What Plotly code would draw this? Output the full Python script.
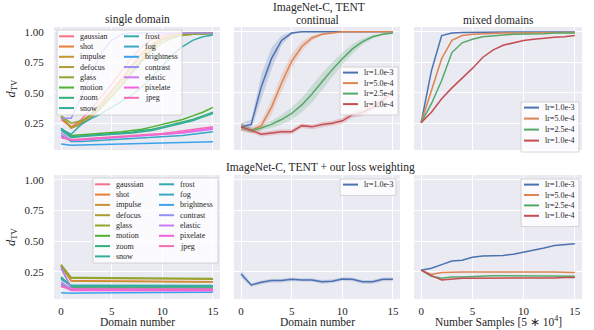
import plotly.graph_objects as go

W, H = 594, 330
FONT = "Liberation Serif"
INK = "#262626"
BG = "#eaeaf2"

steps = list(range(16))

# ---- single domain (top-left) and with loss weighting (bottom-left) ----
corruptions = ["gaussian", "shot", "impulse", "defocus", "glass", "motion", "zoom", "snow",
               "frost", "fog", "brightness", "contrast", "elastic", "pixelate", "jpeg"]
husl15 = ["#f77189", "#ea7e32", "#c99233", "#ad9c31", "#8fa631", "#50b131", "#33b07a", "#35ae97",
          "#37abb0", "#38a8c5", "#3ba3ec", "#9591f4", "#cc7af4", "#f263e0", "#f66bb6"]

single_gaussian = [0.28, 0.22, 0.28, 0.37, 0.47, 0.57, 0.68, 0.79, 0.88, 0.94, 0.97, 0.985, 0.99, 0.99, 0.99, 0.99]
single_shot = [0.30, 0.21, 0.26, 0.33, 0.42, 0.52, 0.62, 0.73, 0.83, 0.90, 0.95, 0.97, 0.98, 0.99, 0.99, 0.99]
single_impulse = [0.30, 0.22, 0.25, 0.32, 0.40, 0.50, 0.60, 0.71, 0.81, 0.89, 0.94, 0.97, 0.98, 0.985, 0.99, 0.99]
single_defocus = [0.31, 0.21, 0.24, 0.30, 0.38, 0.47, 0.57, 0.68, 0.78, 0.87, 0.93, 0.96, 0.975, 0.98, 0.985, 0.985]
single_glass = [0.31, 0.25, 0.27, 0.32, 0.39, 0.47, 0.56, 0.66, 0.76, 0.85, 0.91, 0.95, 0.97, 0.98, 0.98, 0.985]
single_motion = [0.20, 0.15, 0.155, 0.16, 0.165, 0.17, 0.18, 0.19, 0.20, 0.22, 0.24, 0.26, 0.28, 0.31, 0.34, 0.38]
single_zoom = [0.21, 0.14, 0.145, 0.15, 0.155, 0.16, 0.165, 0.175, 0.19, 0.20, 0.22, 0.24, 0.26, 0.28, 0.31, 0.34]
single_snow = [0.19, 0.13, 0.14, 0.145, 0.15, 0.155, 0.16, 0.17, 0.18, 0.19, 0.21, 0.23, 0.25, 0.27, 0.30, 0.33]
single_frost = [0.20, 0.16, 0.24, 0.29, 0.33, 0.38, 0.43, 0.48, 0.55, 0.63, 0.72, 0.81, 0.88, 0.93, 0.96, 0.975]
single_fog = [0.15, 0.10, 0.10, 0.105, 0.11, 0.11, 0.115, 0.12, 0.125, 0.13, 0.135, 0.145, 0.15, 0.16, 0.17, 0.18]
single_brightness = [0.08, 0.07, 0.072, 0.074, 0.076, 0.078, 0.08, 0.082, 0.084, 0.086, 0.088, 0.09, 0.092, 0.094, 0.096, 0.098]
single_contrast = [0.29, 0.29, 0.47, 0.66, 0.83, 0.93, 0.98, 0.99, 0.99, 0.99, 0.99, 0.99, 0.99, 0.99, 0.99, 0.99]
single_elastic = [0.17, 0.11, 0.115, 0.12, 0.125, 0.13, 0.135, 0.14, 0.145, 0.15, 0.16, 0.165, 0.17, 0.18, 0.19, 0.20]
single_pixelate = [0.14, 0.11, 0.115, 0.12, 0.125, 0.13, 0.135, 0.14, 0.145, 0.15, 0.155, 0.165, 0.175, 0.185, 0.195, 0.21]
single_jpeg = [0.13, 0.115, 0.12, 0.125, 0.13, 0.135, 0.14, 0.145, 0.15, 0.16, 0.165, 0.175, 0.185, 0.195, 0.205, 0.22]

lw_gaussian = [0.28, 0.125, 0.122, 0.122, 0.12, 0.12, 0.12, 0.12, 0.12, 0.118, 0.118, 0.118, 0.118, 0.118, 0.118, 0.118]
lw_shot = [0.30, 0.18, 0.178, 0.177, 0.176, 0.175, 0.175, 0.174, 0.174, 0.173, 0.173, 0.172, 0.172, 0.171, 0.171, 0.17]
lw_impulse = [0.30, 0.177, 0.175, 0.174, 0.173, 0.172, 0.172, 0.171, 0.171, 0.17, 0.17, 0.169, 0.169, 0.168, 0.168, 0.168]
lw_defocus = [0.31, 0.20, 0.199, 0.198, 0.197, 0.196, 0.195, 0.195, 0.194, 0.193, 0.193, 0.192, 0.192, 0.191, 0.191, 0.19]
lw_glass = [0.31, 0.206, 0.205, 0.204, 0.203, 0.202, 0.201, 0.2, 0.2, 0.199, 0.198, 0.198, 0.197, 0.197, 0.196, 0.196]
lw_motion = [0.20, 0.132, 0.132, 0.132, 0.131, 0.131, 0.131, 0.131, 0.13, 0.13, 0.13, 0.13, 0.13, 0.13, 0.13, 0.13]
lw_zoom = [0.21, 0.128, 0.128, 0.128, 0.128, 0.127, 0.127, 0.127, 0.127, 0.127, 0.127, 0.127, 0.127, 0.127, 0.127, 0.127]
lw_snow = [0.19, 0.141, 0.141, 0.141, 0.14, 0.14, 0.14, 0.14, 0.14, 0.14, 0.14, 0.14, 0.14, 0.14, 0.14, 0.14]
lw_frost = [0.20, 0.137, 0.137, 0.136, 0.136, 0.136, 0.136, 0.135, 0.135, 0.135, 0.135, 0.135, 0.135, 0.135, 0.135, 0.135]
lw_fog = [0.15, 0.112, 0.112, 0.111, 0.111, 0.111, 0.11, 0.11, 0.11, 0.11, 0.11, 0.11, 0.11, 0.11, 0.11, 0.11]
lw_brightness = [0.08, 0.076, 0.079, 0.08, 0.081, 0.082, 0.082, 0.083, 0.083, 0.084, 0.084, 0.084, 0.085, 0.085, 0.085, 0.085]
lw_contrast = [0.29, 0.115, 0.114, 0.113, 0.112, 0.112, 0.111, 0.111, 0.11, 0.11, 0.11, 0.11, 0.11, 0.11, 0.11, 0.11]
lw_elastic = [0.17, 0.108, 0.107, 0.107, 0.106, 0.106, 0.106, 0.105, 0.105, 0.105, 0.105, 0.105, 0.105, 0.105, 0.105, 0.105]
lw_pixelate = [0.14, 0.10, 0.10, 0.1, 0.099, 0.099, 0.099, 0.099, 0.098, 0.098, 0.098, 0.098, 0.098, 0.098, 0.098, 0.098]
lw_jpeg = [0.13, 0.113, 0.112, 0.112, 0.112, 0.111, 0.111, 0.111, 0.11, 0.11, 0.11, 0.11, 0.11, 0.11, 0.11, 0.11]

single_curves = [single_gaussian, single_shot, single_impulse, single_defocus, single_glass,
                 single_motion, single_zoom, single_snow, single_frost, single_fog,
                 single_brightness, single_contrast, single_elastic, single_pixelate, single_jpeg]
lw_curves = [lw_gaussian, lw_shot, lw_impulse, lw_defocus, lw_glass, lw_motion, lw_zoom, lw_snow,
             lw_frost, lw_fog, lw_brightness, lw_contrast, lw_elastic, lw_pixelate, lw_jpeg]

# ---- learning-rate runs ----
lr_labels = ["lr=1.0e-3", "lr=5.0e-4", "lr=2.5e-4", "lr=1.0e-4"]
deep = ["#4c72b0", "#dd8452", "#55a868", "#c44e52"]

cont_1e3 = [0.22, 0.24, 0.55, 0.78, 0.93, 0.99, 1.0, 1.0, 1.0, 1.0, 1.0, 1.0, 1.0, 1.0, 1.0, 1.0]
cont_5e4 = [0.22, 0.19, 0.23, 0.38, 0.58, 0.76, 0.88, 0.95, 0.98, 0.99, 1.0, 1.0, 1.0, 1.0, 1.0, 1.0]
cont_25e4 = [0.22, 0.19, 0.21, 0.24, 0.28, 0.33, 0.40, 0.49, 0.59, 0.69, 0.78, 0.86, 0.92, 0.96, 0.98, 0.99]
cont_1e4 = [0.22, 0.19, 0.16, 0.17, 0.18, 0.18, 0.23, 0.22, 0.24, 0.25, 0.27, 0.32, 0.34, 0.38, 0.44, 0.51]
cont_sd_1e3 = [0.03, 0.04, 0.10, 0.09, 0.04, 0.01, 0.003, 0.0, 0.0, 0.0, 0.0, 0.0, 0.0, 0.0, 0.0, 0.0]
cont_sd_5e4 = [0.03, 0.02, 0.04, 0.06, 0.07, 0.06, 0.04, 0.02, 0.01, 0.005, 0.003, 0.0, 0.0, 0.0, 0.0, 0.0]
cont_sd_25e4 = [0.03, 0.02, 0.02, 0.03, 0.04, 0.05, 0.06, 0.07, 0.07, 0.06, 0.05, 0.04, 0.025, 0.015, 0.008, 0.004]
cont_sd_1e4 = [0.03, 0.02, 0.02, 0.02, 0.02, 0.02, 0.02, 0.02, 0.02, 0.02, 0.025, 0.025, 0.03, 0.03, 0.03, 0.03]

mix_1e3 = [0.255, 0.68, 0.97, 0.99, 0.995, 0.997, 0.998, 0.998, 0.999, 0.999, 0.999, 0.999, 0.999, 0.999, 0.999, 0.999]
mix_5e4 = [0.255, 0.52, 0.78, 0.93, 0.97, 0.98, 0.985, 0.99, 0.99, 0.99, 0.992, 0.993, 0.994, 0.995, 0.995, 0.995]
mix_25e4 = [0.255, 0.41, 0.60, 0.83, 0.91, 0.94, 0.96, 0.97, 0.975, 0.98, 0.98, 0.985, 0.985, 0.99, 0.99, 0.99]
mix_1e4 = [0.255, 0.34, 0.45, 0.54, 0.62, 0.70, 0.79, 0.85, 0.89, 0.91, 0.93, 0.94, 0.95, 0.955, 0.96, 0.97]

wt_1e3 = [0.234, 0.144, 0.166, 0.18, 0.18, 0.19, 0.185, 0.185, 0.17, 0.175, 0.193, 0.19, 0.17, 0.17, 0.19, 0.19]
wt_sd_1e3 = [0.03, 0.015, 0.015, 0.015, 0.015, 0.015, 0.015, 0.015, 0.015, 0.015, 0.015, 0.015, 0.015, 0.015, 0.015, 0.015]

ns_1e3 = [0.265, 0.28, 0.31, 0.34, 0.345, 0.37, 0.38, 0.38, 0.385, 0.395, 0.41, 0.425, 0.445, 0.465, 0.47, 0.48]
ns_5e4 = [0.265, 0.23, 0.245, 0.25, 0.25, 0.25, 0.25, 0.25, 0.25, 0.252, 0.255, 0.25, 0.25, 0.25, 0.248, 0.245]
ns_25e4 = [0.265, 0.215, 0.20, 0.21, 0.21, 0.215, 0.22, 0.22, 0.22, 0.22, 0.22, 0.22, 0.218, 0.22, 0.218, 0.215]
ns_1e4 = [0.265, 0.22, 0.185, 0.195, 0.20, 0.20, 0.20, 0.20, 0.20, 0.198, 0.20, 0.202, 0.20, 0.202, 0.205, 0.205]

x_ticks = [0, 5, 10, 15]
y_ticks = [0.25, 0.5, 0.75, 1.0]

# panel boxes in pixels (left, right) / (top, bottom)
cols_px = [(54, 220), (234, 400), (414, 582)]
rows_px = [(27, 150), (175, 299)]


def fx(p):
    return p / W


def fy(p):
    return 1 - p / H


fig = go.Figure()


def ax(row, col):
    i = row * 3 + col + 1
    return ("x%d" % i, "y%d" % i)


def add_line(row, col, y, color, name, width=1.5):
    xa, ya = ax(row, col)
    fig.add_trace(go.Scatter(x=steps, y=y, mode="lines", name=name, xaxis=xa, yaxis=ya,
                             line=dict(color=color, width=width), showlegend=False))


def hex_rgba(c, a):
    return "rgba(%d,%d,%d,%.2f)" % (int(c[1:3], 16), int(c[3:5], 16), int(c[5:7], 16), a)


def add_band(row, col, mean, sd, color):
    xa, ya = ax(row, col)
    upper = [m + s for m, s in zip(mean, sd)]
    lower = [m - s for m, s in zip(mean, sd)]
    fig.add_trace(go.Scatter(x=steps + steps[::-1], y=upper + lower[::-1], fill="toself",
                             fillcolor=hex_rgba(color, 0.22), line=dict(width=0),
                             mode="lines", xaxis=xa, yaxis=ya, hoverinfo="skip",
                             showlegend=False))


# single domain
for name, color, y in zip(corruptions, husl15, single_curves):
    add_line(0, 0, y, color, name)

# continual
cont = [cont_1e3, cont_5e4, cont_25e4, cont_1e4]
cont_sd = [cont_sd_1e3, cont_sd_5e4, cont_sd_25e4, cont_sd_1e4]
for m, s, c in zip(cont, cont_sd, deep):
    add_band(0, 1, m, s, c)
for m, c, n in zip(cont, deep, lr_labels):
    add_line(0, 1, m, c, n)

# mixed
for m, c, n in zip([mix_1e3, mix_5e4, mix_25e4, mix_1e4], deep, lr_labels):
    add_line(0, 2, m, c, n)

# loss weighting, single domain
for name, color, y in zip(corruptions, husl15, lw_curves):
    add_line(1, 0, y, color, name)

# loss weighting, continual
add_band(1, 1, wt_1e3, wt_sd_1e3, deep[0])
add_line(1, 1, wt_1e3, deep[0], lr_labels[0])

# loss weighting, number of samples
for m, c, n in zip([ns_1e3, ns_5e4, ns_25e4, ns_1e4], deep, lr_labels):
    add_line(1, 2, m, c, n)

layout = dict(
    width=W, height=H, margin=dict(l=0, r=0, t=0, b=0),
    paper_bgcolor="white", plot_bgcolor=BG, showlegend=False,
    font=dict(family=FONT, color=INK, size=11),
)
tickfont = dict(family=FONT, size=11, color=INK)
for r in range(2):
    for c in range(3):
        i = r * 3 + c + 1
        x0, x1 = cols_px[c]
        y0, y1 = rows_px[r]
        xaxis = dict(domain=[fx(x0), fx(x1)], anchor="y%d" % i, range=[-0.7, 15.7],
                     tickvals=x_ticks, showticklabels=(r == 1), showgrid=True,
                     gridcolor="white", gridwidth=1, zeroline=False, showline=False,
                     ticks="outside", ticklen=2, tickcolor="rgba(0,0,0,0)", tickfont=tickfont)
        yaxis = dict(domain=[fy(y1), fy(y0)], anchor="x%d" % i, range=[0.03, 1.04],
                     tickvals=y_ticks, tickformat=".2f", showticklabels=(c == 0),
                     showgrid=True, gridcolor="white", gridwidth=1, zeroline=False,
                     showline=False, ticks="outside", ticklen=7,
                     tickcolor="rgba(0,0,0,0)", tickfont=tickfont)
        if c == 0:
            yaxis["title"] = dict(text="<i>d</i><sub>TV</sub>",
                                  font=dict(family=FONT, size=12.5, color=INK), standoff=6)
        layout["xaxis%d" % i] = xaxis
        layout["yaxis%d" % i] = yaxis
fig.update_layout(**layout)


def note(x, y, text, size=11.5):
    fig.add_annotation(xref="paper", yref="paper", x=fx(x), y=fy(y), text=text,
                       showarrow=False, xanchor="center", yanchor="middle",
                       font=dict(family=FONT, size=size, color=INK))


note(319, 7, "ImageNet-C, TENT")
note(137, 20, "single domain")
note(317, 20, "continual")
note(498, 20, "mixed domains")
note(320, 167, "ImageNet-C, TENT + our loss weighting")
# x-axis titles of the bottom row
note(137, 322, "Domain number")
note(317, 322, "Domain number")
note(498, 321, "Number Samples [5 \u2217 10<sup>4</sup>]")


# hand-built legends (matplotlib-like compact frames)
def legend_box(x0, y0, x1, y1):
    fig.add_shape(type="rect", xref="paper", yref="paper", x0=fx(x0), x1=fx(x1),
                  y0=fy(y1), y1=fy(y0), fillcolor="rgba(255,255,255,0.8)",
                  line=dict(color="#cccccc", width=0.8), layer="above")


def legend_entry(x, y, name, color):
    fig.add_shape(type="line", xref="paper", yref="paper", x0=fx(x), x1=fx(x + 15),
                  y0=fy(y), y1=fy(y), line=dict(color=color, width=2), layer="above")
    fig.add_annotation(xref="paper", yref="paper", x=fx(x + 19), y=fy(y), text=name,
                       showarrow=False, xanchor="left", yanchor="middle",
                       font=dict(family=FONT, size=8, color=INK))


def corruption_legend(bx, by, col2_dx, dy):
    legend_box(bx, by, bx + 125, by + 85)
    for k, (name, color) in enumerate(zip(corruptions, husl15)):
        colx = bx + 2 if k < 8 else bx + 2 + col2_dx
        legend_entry(colx, by + 6.3 + dy * (k % 8), name, color)


def lr_legend(bx, by, n, dy, w=58):
    legend_box(bx, by, bx + w, by + 8 + dy * n - 2)
    for k in range(n):
        legend_entry(bx + 3, by + 5.6 + dy * k, lr_labels[k], deep[k])


corruption_legend(57, 30, 65, 10.25)
corruption_legend(93, 178, 64, 10.3)
lr_legend(340, 67, 4, 10.5)
lr_legend(521, 102, 4, 11)
lr_legend(340, 179, 1, 10.5, w=56)
lr_legend(521, 179, 4, 10.4)

# no toolbar, and drop the browser's default 8px page margin so the figure sits at the corner
fig.write_html("out.html", config={"displayModeBar": False},
               post_script="document.body.style.margin = '0';")
